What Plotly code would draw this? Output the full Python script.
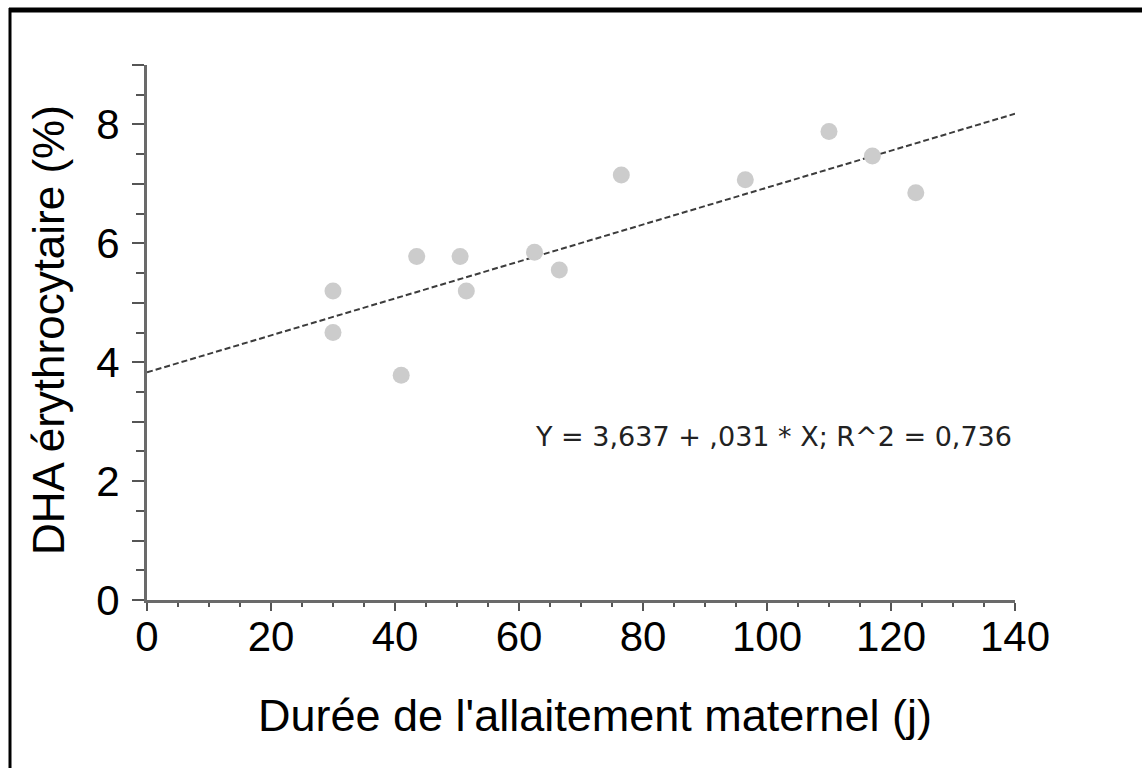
import plotly.graph_objects as go

# Data
duree_j = [30, 30, 41, 43.5, 50.5, 51.5, 62.5, 66.5, 76.5, 96.5, 110, 117, 124]
dha_pct = [5.2, 4.5, 3.78, 5.78, 5.78, 5.2, 5.85, 5.55, 7.15, 7.07, 7.88, 7.47, 6.85]

fit_x = [0, 140]
fit_y = [3.83, 8.18]

x_ticks = [0, 20, 40, 60, 80, 100, 120, 140]
y_ticks = [0, 1, 2, 3, 4, 5, 6, 7, 8, 9]
y_ticktext = ["0", "", "2", "", "4", "", "6", "", "8", ""]

equation = "Y = 3,637 + ,031 * X; R^2 = 0,736"
x_title = "Durée de l'allaitement maternel (j)"
y_title = "DHA érythrocytaire (%)"

FONT = "Liberation Sans, Arial, sans-serif"

fig = go.Figure()
fig.add_trace(go.Scatter(
    x=fit_x, y=fit_y, mode="lines",
    line=dict(color="#3c3c3c", width=2, dash="6px,3px"),
    showlegend=False, hoverinfo="skip"))
fig.add_trace(go.Scatter(
    x=duree_j, y=dha_pct, mode="markers",
    marker=dict(color="#cccccc", size=17, line=dict(width=0)),
    showlegend=False))

W, H = 1142, 768
L, R, T, B = 147, 127, 65, 168
pw, ph = W - L - R, H - T - B

def px_to_paper_x(px):
    return (px - L) / pw

def px_to_paper_y(py):
    return (H - B - py) / ph

fig.update_layout(
    width=W, height=H,
    margin=dict(l=L, r=R, t=T, b=B, pad=0),
    paper_bgcolor="white", plot_bgcolor="white",
    font=dict(family=FONT, color="black"),
    xaxis=dict(
        range=[0, 140], tickvals=x_ticks, ticks="outside", ticklen=8,
        tickwidth=2, tickcolor="#555555",
        showline=True, linecolor="#6a6a6a", linewidth=3,
        showgrid=False, zeroline=False,
        tickfont=dict(size=42, family=FONT, color="black"),
        ticklabelstandoff=-10,
        minor=dict(dtick=5, ticks="outside", ticklen=4, tickwidth=2,
                   tickcolor="#555555", showgrid=False),
    ),
    yaxis=dict(
        range=[0, 9], tickvals=y_ticks, ticktext=y_ticktext,
        ticks="outside", ticklen=12, tickwidth=2, tickcolor="#555555",
        showline=True, linecolor="#6a6a6a", linewidth=3,
        showgrid=False, zeroline=False,
        tickfont=dict(size=42, family=FONT, color="black"),
        ticklabelstandoff=4,
        minor=dict(dtick=0.5, ticks="outside", ticklen=8, tickwidth=2,
                   tickcolor="#555555", showgrid=False),
    ),
    annotations=[
        dict(text=x_title, xref="paper", yref="paper",
             x=px_to_paper_x(595), y=px_to_paper_y(715),
             xanchor="center", yanchor="middle", showarrow=False,
             font=dict(size=45, family=FONT, color="black")),
        dict(text=y_title, xref="paper", yref="paper",
             x=px_to_paper_x(48), y=px_to_paper_y(330),
             xanchor="center", yanchor="middle", showarrow=False, textangle=-90,
             font=dict(size=44, family=FONT, color="black")),
        dict(text=equation, xref="paper", yref="paper",
             x=px_to_paper_x(533), y=px_to_paper_y(436),
             xanchor="left", yanchor="middle", showarrow=False,
             font=dict(size=27, family="DejaVu Sans, sans-serif", color="#222222")),
    ],
    shapes=[
        dict(type="line", xref="paper", yref="paper",
             x0=px_to_paper_x(9), x1=px_to_paper_x(1142),
             y0=px_to_paper_y(10), y1=px_to_paper_y(10),
             line=dict(color="black", width=5)),
        dict(type="line", xref="paper", yref="paper",
             x0=px_to_paper_x(10), x1=px_to_paper_x(10),
             y0=px_to_paper_y(8), y1=px_to_paper_y(768),
             line=dict(color="black", width=3)),
    ],
)

fig.write_html("out.html")
